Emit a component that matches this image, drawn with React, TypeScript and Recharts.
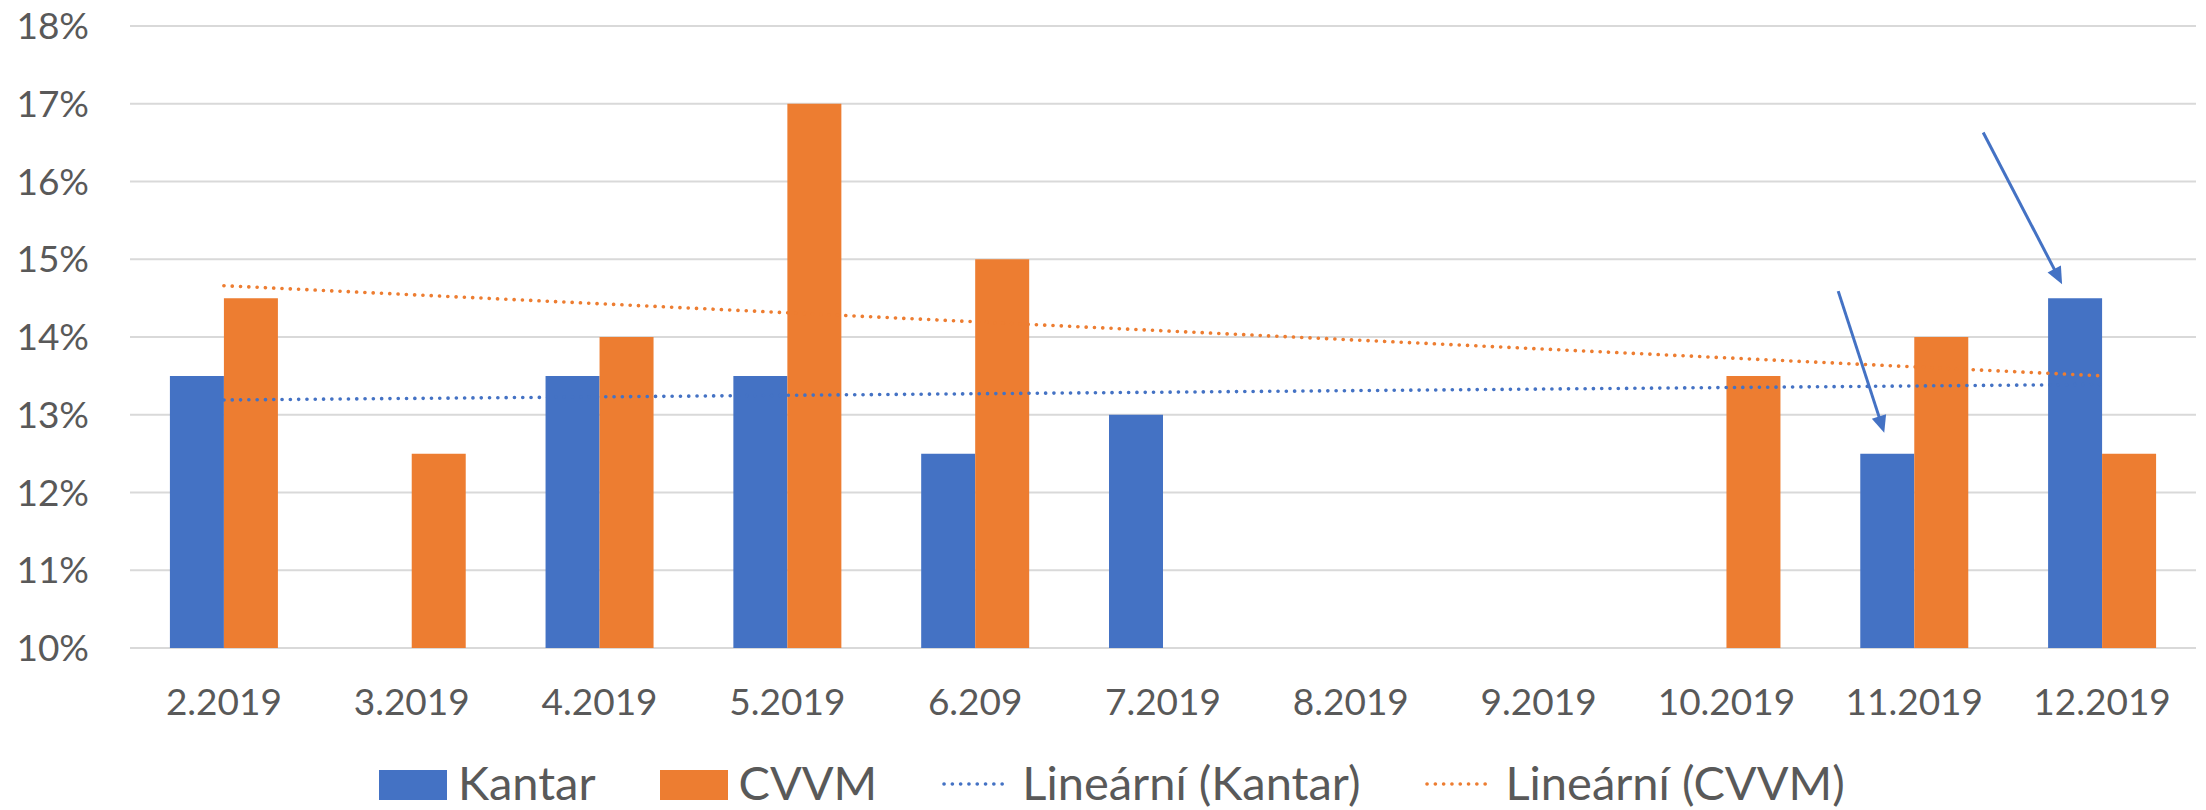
import React from 'react';
import { ComposedChart, Bar, Line, XAxis, YAxis, CartesianGrid, Legend, ReferenceLine } from 'recharts';

const categories = ['2.2019', '3.2019', '4.2019', '5.2019', '6.209', '7.2019', '8.2019', '9.2019', '10.2019', '11.2019', '12.2019'];
const kantar = [13.5, null, 13.5, 13.5, 12.5, 13, null, null, null, 12.5, 14.5];
const cvvm = [14.5, 12.5, 14, 17, 15, null, null, null, 13.5, 14, 12.5];
const trendKantar = [13.19, null, null, null, null, null, null, null, null, null, 13.39];
const trendCvvm = [14.66, null, null, null, null, null, null, null, null, null, 13.5];
const yTicks = [10, 11, 12, 13, 14, 15, 16, 17, 18];

// annotation arrows, in data units (x: category position, 0 = first category centre; y: percent)
const arrows = [
  { from: { x: 8.595, y: 14.59 }, to: { x: 8.84, y: 12.77 } },
  { from: { x: 9.367, y: 16.63 }, to: { x: 9.787, y: 14.68 } },
];

const BLUE = '#4472C4';
const ORANGE = '#ED7D31';
const TEXT = '#595959';
const FONT = 'Lato, "Open Sans", sans-serif';
const DOTS = '0.1 8.2';

const data = categories.map((month, i) => ({
  month,
  pos: i,
  kantar: kantar[i],
  cvvm: cvvm[i],
  trendKantar: trendKantar[i],
  trendCvvm: trendCvvm[i],
}));

const legendItems = [
  { label: 'Kantar', color: BLUE, kind: 'bar' },
  { label: 'CVVM', color: ORANGE, kind: 'bar' },
  { label: 'Lineární (Kantar)', color: BLUE, kind: 'line' },
  { label: 'Lineární (CVVM)', color: ORANGE, kind: 'line' },
];

const ArrowShape = (props: any) => {
  const { x1, y1, x2, y2 } = props;
  const dx = x2 - x1;
  const dy = y2 - y1;
  const len = Math.sqrt(dx * dx + dy * dy) || 1;
  const ux = dx / len;
  const uy = dy / len;
  const nx = -uy;
  const ny = ux;
  const L = 17;
  const W = 7.5;
  const bx = x2 - ux * L;
  const by = y2 - uy * L;
  const pts = `${x2},${y2} ${bx + nx * W},${by + ny * W} ${bx - nx * W},${by - ny * W}`;
  return (
    <g>
      <line x1={x1} y1={y1} x2={bx + ux * 2} y2={by + uy * 2} stroke={BLUE} strokeWidth={3} />
      <polygon points={pts} fill={BLUE} />
    </g>
  );
};

const renderLegend = () => (
  <div
    style={{
      display: 'flex',
      alignItems: 'flex-start',
      height: 50,
      paddingLeft: 379,
      boxSizing: 'border-box',
      fontFamily: FONT,
      fontSize: 47,
      color: TEXT,
    }}
  >
    {legendItems.map((it, i) => (
      <div key={it.label} style={{ display: 'flex', alignItems: 'flex-start', marginRight: i < legendItems.length - 1 ? 64 : 0 }}>
        {it.kind === 'bar' ? (
          <svg width={68} height={50} style={{ display: 'block' }}>
            <rect x={0} y={13} width={68} height={30} fill={it.color} />
          </svg>
        ) : (
          <svg width={70} height={50} style={{ display: 'block' }}>
            <line x1={3} y1={27} x2={68} y2={27} stroke={it.color} strokeWidth={3.6} strokeDasharray={DOTS} strokeLinecap="round" />
          </svg>
        )}
        <span style={{ marginLeft: 11, lineHeight: '50px', whiteSpace: 'nowrap' }}>{it.label}</span>
      </div>
    ))}
  </div>
);

export default function App() {
  return (
    <div style={{ position: 'absolute', left: 0, top: 0, width: 2206, height: 810, background: '#fff' }}>
      <ComposedChart
        width={2206}
        height={810}
        data={data}
        margin={{ top: 26, right: 10, left: 0, bottom: 12 }}
        barCategoryGap="21.25%"
        barGap={0}
      >
        <CartesianGrid vertical={false} stroke="#D9D9D9" strokeWidth={2} />
        <XAxis
          xAxisId="cat"
          dataKey="month"
          interval={0}
          tickLine={false}
          axisLine={false}
          tickSize={0}
          tickMargin={41}
          height={100}
          tick={{ fontSize: 37, fill: TEXT, fontFamily: FONT }}
        />
        <XAxis xAxisId="num" dataKey="pos" type="number" domain={[-0.5, 10.5]} hide allowDataOverflow />
        <YAxis
          domain={[10, 18]}
          ticks={yTicks}
          interval={0}
          allowDataOverflow
          tickFormatter={(v: number) => `${v}%`}
          tickLine={false}
          axisLine={false}
          tickSize={0}
          tickMargin={41}
          width={130}
          tick={{ fontSize: 37, fill: TEXT, fontFamily: FONT }}
        />
        <Bar xAxisId="cat" dataKey="kantar" name="Kantar" fill={BLUE} isAnimationActive={false} />
        <Bar xAxisId="cat" dataKey="cvvm" name="CVVM" fill={ORANGE} isAnimationActive={false} />
        <Line
          xAxisId="cat"
          dataKey="trendKantar"
          name="Lineární (Kantar)"
          stroke={BLUE}
          strokeWidth={3.6}
          strokeDasharray={DOTS}
          strokeLinecap="round"
          dot={false}
          activeDot={false}
          connectNulls
          type="linear"
          isAnimationActive={false}
        />
        <Line
          xAxisId="cat"
          dataKey="trendCvvm"
          name="Lineární (CVVM)"
          stroke={ORANGE}
          strokeWidth={3.6}
          strokeDasharray={DOTS}
          strokeLinecap="round"
          dot={false}
          activeDot={false}
          connectNulls
          type="linear"
          isAnimationActive={false}
        />
        {arrows.map((a, i) => (
          <ReferenceLine
            key={i}
            xAxisId="num"
            segment={[a.from, a.to]}
            ifOverflow="visible"
            shape={ArrowShape}
          />
        ))}
        <Legend
          content={renderLegend}
          verticalAlign="bottom"
          wrapperStyle={{ left: 0, width: 2206, top: 757, bottom: 'auto', height: 50 }}
        />
      </ComposedChart>
    </div>
  );
}
